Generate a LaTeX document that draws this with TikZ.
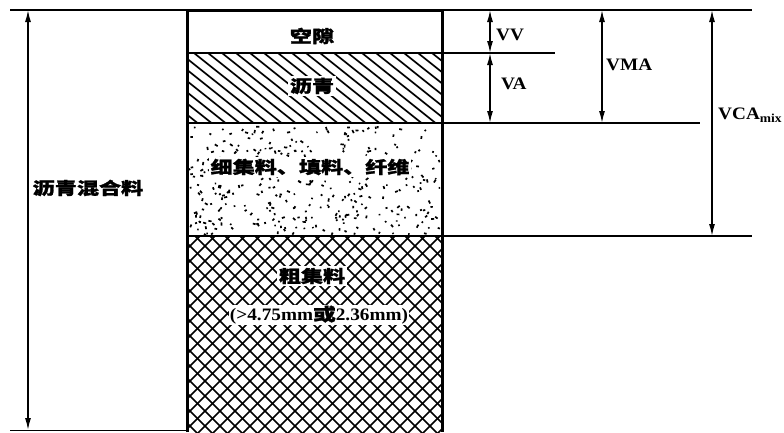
\documentclass[tikz,border=0pt]{standalone}
\usepackage{fontspec}
\setmainfont{Liberation Serif}[FakeStretch=1.1]
\newfontfamily\cjk{Noto Sans CJK SC}[FakeStretch=1.3, BoldFeatures={FakeBold=1.5}]
\usetikzlibrary{arrows.meta}
\tikzset{
  lab/.style={font=\fontsize{17.5}{20}\selectfont\bfseries, inner sep=1pt},
  cjklab/.style={font=\fontsize{17}{20}\selectfont\cjk\bfseries, inner sep=1.5pt},
  thinline/.style={line width=1pt},
  bound/.style={line width=1.6pt},
  dim/.style={line width=1.4pt, <->},
  hatch/.style={line width=1.7pt},
}
\begin{document}
\begin{tikzpicture}[x=1pt,y=-1pt, >={Latex[length=12pt,width=6pt]}]
\useasboundingbox (0,0) rectangle (784,432);
% key coordinates
\coordinate (bxTL) at (187,10);
\coordinate (bxTR) at (442,10);
\coordinate (bxBL) at (187,432);
\coordinate (bxBR) at (442,432);
% left
\coordinate (topL) at (10,10);
\coordinate (topR) at (752,10);
\coordinate (botL) at (10,430);
\coordinate (botR) at (187,430);
\coordinate (mixT) at (28,10);
\coordinate (mixB) at (28,430);
% boundaries
\coordinate (b1L) at (187,53);  \coordinate (b1R) at (555,53);
\coordinate (b2L) at (187,123); \coordinate (b2R) at (700,123);
\coordinate (b3L) at (187,236); \coordinate (b3R) at (752,236);
% arrow points
\coordinate (vvT) at (490,10); \coordinate (vvB) at (490,53);
\coordinate (vaB) at (490,123);
\coordinate (vmaT) at (602,10); \coordinate (vmaB) at (602,123);
\coordinate (vcaT) at (712,10); \coordinate (vcaB) at (712,236);

% asphalt hatch
\begin{scope}
\clip (187,53) rectangle (442,123);
\foreach \x in {-100,-86,...,460} \draw[hatch] (\x,53) -- ++(87.5,70);
\end{scope}
% fine aggregate dots
\begin{scope}
\clip (189,125) rectangle (440,234);
\pgfmathsetseed{23}
\foreach \i in {1,...,360}{
  \pgfmathsetmacro\px{190+rnd*250}
  \pgfmathsetmacro\py{126+rnd*108}
  \pgfmathsetmacro\pa{rnd*180}
  \pgfmathsetmacro\pl{1.2+rnd*2.2}
  \draw[line width=1.7pt] (\px,\py) -- ++(\pa:\pl);
}
\end{scope}
% coarse crosshatch
\begin{scope}
\clip (187,236) rectangle (442,432);
\foreach \x in {-210,-195,...,460} {
  \draw[hatch] (\x,236) -- ++(200,200);
  \draw[hatch] (\x+200,236) -- ++(-200,200);
}
\end{scope}

% lines
\draw[bound] (topL) -- (topR);
\draw[thinline] (botL) -- (botR);
\draw[bound] (b1L) -- (b1R);
\draw[bound] (b2L) -- (b2R);
\draw[bound] (b3L) -- (b3R);
% box
\draw[line width=3pt] (bxBL) -- (bxTL) -- (bxTR) -- (bxBR);

% dimension arrows
\draw[dim] (mixT) -- (mixB);
\draw[dim] (vvT) -- (vvB);
\draw[dim] (vvB) -- (vaB);
\draw[dim] (vmaT) -- (vmaB);
\draw[dim] (vcaT) -- (vcaB);

% labels
\node[cjklab] (void) at (312,36) {空隙};
\node[cjklab, fill=white] (asph) at (312,86) {沥青};
\node[cjklab, fill=white] (fine) at (310,167) {细集料、填料、纤维};
\node[cjklab, fill=white] (coarse) at (312,276) {粗集料};
\node[lab, fill=white] (size) at (319,315) {(>4.75mm{\cjk 或}2.36mm)};
\node[cjklab, anchor=west] (mix) at (31,188) {沥青混合料};
\node[lab, anchor=west] (vv) at (495,35) {VV};
\node[lab, anchor=west] (va) at (500,84) {VA};
\node[lab, anchor=west] (vma) at (605,65) {VMA};
\node[lab, anchor=west, inner sep=0pt] (vca) at (718,115) {VCA\textsubscript{mix}};
\end{tikzpicture}
\end{document}
